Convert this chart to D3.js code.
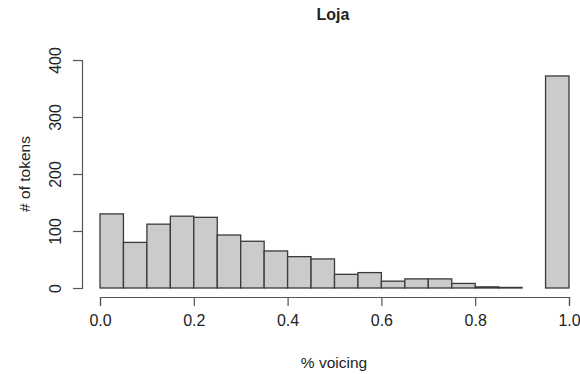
<!DOCTYPE html>
<html lang="en">
<head>
    <meta charset="UTF-8">
    <title>Loja</title>
    <style>
        body { margin: 0; background: #fff; }
        text { font-family: "Liberation Sans", Arial, sans-serif; fill: #222; }
    </style>
</head>
<body>
    <script src="https://cdn.jsdelivr.net/npm/d3@7"></script>
    <script>
        // histogram bins (left edges) and counts
        const binStarts = [0, 0.05, 0.1, 0.15, 0.2, 0.25, 0.3, 0.35, 0.4, 0.45,
            0.5, 0.55, 0.6, 0.65, 0.7, 0.75, 0.8, 0.85, 0.9, 0.95];
        const counts = [130, 80, 112, 126, 124, 93, 82, 65, 55, 51,
            24, 27, 12, 16, 16, 8, 2, 1, 0, 372];
        const binWidth = 0.05;
        const xTicks = [0, 0.2, 0.4, 0.6, 0.8, 1.0];
        const yTicks = [0, 100, 200, 300, 400];

        const w = 580;
        const h = 374;
        const svg = d3.select('body')
            .append('svg')
            .attr('width', w)
            .attr('height', h);

        const xScale = d3.scaleLinear().domain([0, 1]).range([100, 569]);
        const yScale = d3.scaleLinear().domain([0, 400]).range([288, 60]);

        // bars
        svg.selectAll('rect.bar')
            .data(binStarts)
            .enter()
            .append('rect')
            .attr('class', 'bar')
            .attr('x', (d) => xScale(d))
            .attr('width', (d) => xScale(d + binWidth) - xScale(d))
            .attr('y', (d, i) => yScale(counts[i]))
            .attr('height', (d, i) => yScale(0) - yScale(counts[i]))
            .attr('fill', '#cbcbcb')
            .attr('stroke', '#3a3a3a')
            .attr('stroke-width', 1.3);

        // x axis (R style, offset below the bars)
        const xAxis = svg.append('g')
            .attr('transform', 'translate(0,297)')
            .call(d3.axisBottom(xScale).tickValues(xTicks).tickFormat(d3.format('.1f')).tickSize(9).tickPadding(9));
        xAxis.select('.domain').attr('stroke', '#555').attr('stroke-width', 1.2);
        xAxis.selectAll('.tick line').attr('stroke', '#555').attr('stroke-width', 1.2);
        xAxis.selectAll('text').attr('font-size', 16).attr('fill', '#222')
            .attr('font-family', '"Liberation Sans", Arial, sans-serif');

        // y axis
        const yAxis = svg.append('g')
            .attr('transform', 'translate(82,0)')
            .call(d3.axisLeft(yScale).tickValues(yTicks).tickSize(9).tickPadding(0));
        yAxis.select('.domain').attr('stroke', '#555').attr('stroke-width', 1.2);
        yAxis.selectAll('.tick line').attr('stroke', '#555').attr('stroke-width', 1.2);
        yAxis.selectAll('text')
            .attr('font-size', 16)
            .attr('fill', '#222')
            .attr('font-family', '"Liberation Sans", Arial, sans-serif')
            .attr('x', 0)
            .attr('dy', null)
            .attr('text-anchor', 'middle')
            .attr('transform', 'translate(-21,0) rotate(-90)')
            .attr('y', 0);

        // title and axis titles
        svg.append('text')
            .attr('x', 333)
            .attr('y', 20)
            .attr('text-anchor', 'middle')
            .attr('font-size', 16)
            .attr('font-weight', 'bold')
            .text('Loja');

        svg.append('text')
            .attr('x', 334)
            .attr('y', 368)
            .attr('text-anchor', 'middle')
            .attr('font-size', 15.5)
            .text('% voicing');

        svg.append('text')
            .attr('transform', 'translate(30,174) rotate(-90)')
            .attr('text-anchor', 'middle')
            .attr('font-size', 15.5)
            .text('# of tokens');
    </script>
</body>
</html>
